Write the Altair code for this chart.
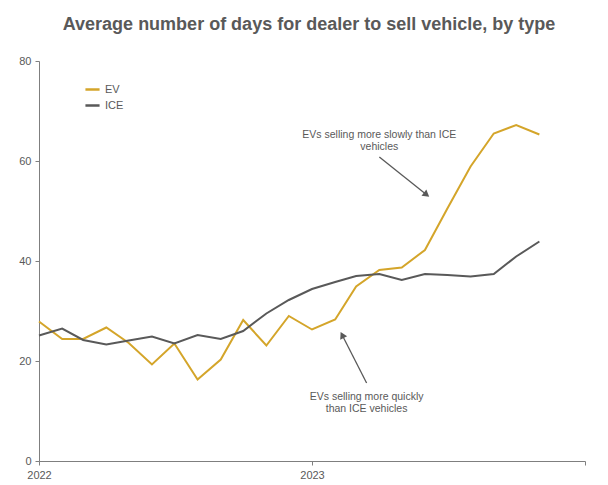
import altair as alt
import pandas as pd

months = pd.date_range("2022-01-01", periods=23, freq="MS").strftime("%Y-%m-%d").tolist()
ev = [27.9, 24.4, 24.4, 26.7, 23.6, 19.3, 23.5, 16.3, 20.3, 28.2, 23.1, 29.0,
      26.3, 28.3, 34.9, 38.2, 38.7, 42.2, 50.5, 58.9, 65.5, 67.2, 65.3]
ice = [25.1, 26.5, 24.2, 23.3, 24.1, 24.9, 23.5, 25.2, 24.4, 26.0, 29.5, 32.2,
       34.4, 35.8, 37.0, 37.4, 36.2, 37.4, 37.2, 36.9, 37.4, 40.9, 43.9]
series = ["EV", "ICE"]
colors = ["#D4A52A", "#595959"]

ann_text = [["EVs selling more slowly than ICE", "vehicles"],
            ["EVs selling more quickly", "than ICE vehicles"]]
ann_pos = [("2023-04-01", 65.2), ("2023-03-15", 12.9)]
arrow_from = [("2023-04-01", 60.8), ("2023-03-15", 15.6)]
arrow_to = [("2023-06-02", 53.4), ("2023-02-11", 25.0)]

df = pd.DataFrame({
    "month": months * 2,
    "value": ev + ice,
    "series": ["EV"] * len(ev) + ["ICE"] * len(ice),
})

font = "Liberation Sans"
xscale = alt.Scale(domain=["2022-01-01", "2024-01-01"])
yscale = alt.Scale(domain=[0, 80])

lines = alt.Chart(df).mark_line(strokeWidth=2).encode(
    x=alt.X("month:T", scale=xscale, title=None,
            axis=alt.Axis(values=["2022-01-01", "2023-01-01", "2024-01-01"],
                          format="%Y",
                          labelExpr="datum.label == '2024' ? '' : datum.label",
                          grid=False, domainColor="#7f7f7f", tickColor="#7f7f7f",
                          tickSize=4, labelColor="#595959", labelFont=font,
                          labelFontSize=11, labelPadding=4,
                          labelAlign="center")),
    y=alt.Y("value:Q", scale=yscale, title=None,
            axis=alt.Axis(values=[0, 20, 40, 60, 80], grid=False,
                          domainColor="#7f7f7f", tickColor="#7f7f7f", tickSize=4,
                          labelColor="#595959", labelFont=font, labelFontSize=11,
                          labelPadding=4)),
    color=alt.Color("series:N", scale=alt.Scale(domain=series, range=colors),
                    legend=alt.Legend(title=None, orient="none", legendX=45,
                                      legendY=20, symbolType="stroke",
                                      symbolStrokeWidth=2.5, symbolSize=200,
                                      labelFont=font, labelFontSize=11,
                                      labelColor="#595959", rowPadding=2)),
)

ann_df = pd.DataFrame({
    "month": [p[0] for p in ann_pos],
    "value": [p[1] for p in ann_pos],
    "text": ann_text,
})
texts = alt.Chart(ann_df).mark_text(font=font, fontSize=10.5, color="#595959",
                                    align="center", baseline="middle",
                                    lineHeight=12).encode(
    x=alt.X("month:T", scale=xscale),
    y=alt.Y("value:Q", scale=yscale),
    text="text",
)

arr_df = pd.DataFrame({
    "m1": [a[0] for a in arrow_from], "v1": [a[1] for a in arrow_from],
    "m2": [a[0] for a in arrow_to], "v2": [a[1] for a in arrow_to],
})
arrows = alt.Chart(arr_df).mark_rule(color="#595959", strokeWidth=1.3).encode(
    x=alt.X("m1:T", scale=xscale), y=alt.Y("v1:Q", scale=yscale),
    x2="m2:T", y2="v2:Q",
)
heads = alt.Chart(arr_df).mark_point(shape="triangle", filled=True, color="#595959",
                                     size=60, opacity=1).encode(
    x=alt.X("m2:T", scale=xscale), y=alt.Y("v2:Q", scale=yscale),
    angle=alt.Angle("ang:Q", scale=None),
).transform_calculate(
    ang="(90 - atan2(-(scale('y', datum.v2) - scale('y', datum.v1)), scale('x', datum.m2) - scale('x', datum.m1)) * 180 / PI + 360) % 360"
)

chart = alt.layer(lines, texts, arrows, heads).properties(
    width=546, height=400,
    autosize=alt.AutoSizeParams(type="none"),
    padding={"left": 31, "top": 53, "right": 15, "bottom": 20},
    title=alt.TitleParams("Average number of days for dealer to sell vehicle, by type",
                          font=font, fontSize=18, fontWeight="bold",
                          color="#595959", anchor="middle", offset=21, dx=-3),
).configure_view(stroke=None)

chart.save("out.html", embed_options={"renderer": "svg", "actions": False})
